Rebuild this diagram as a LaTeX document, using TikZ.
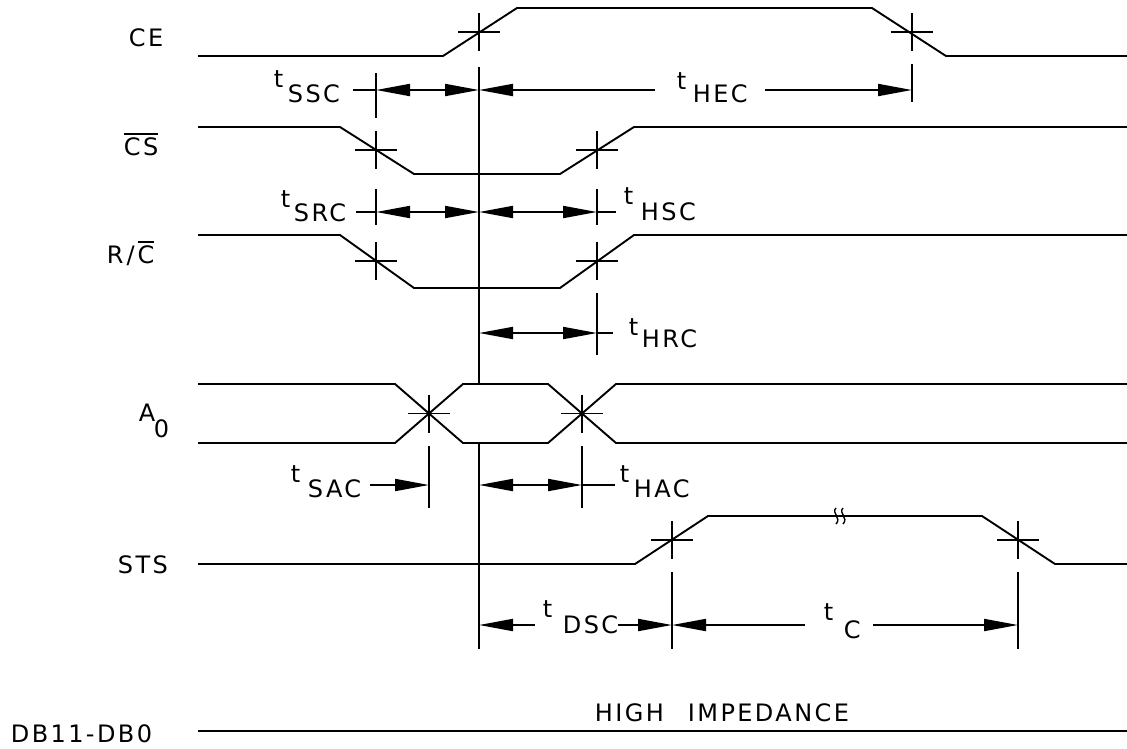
\documentclass[tikz,border=0pt]{standalone}
\usepackage{fontspec}
\setmainfont{DejaVu Sans}
\newfontfamily\lblfont[LetterSpace=10]{DejaVu Sans}
\usetikzlibrary{arrows.meta}
\newsavebox\ovbox
\newcommand\ovl[1]{\sbox\ovbox{#1}\rlap{\rule[0.84em]{\wd\ovbox}{1.8pt}}\usebox\ovbox}
\begin{document}
\begin{tikzpicture}[x=1pt,y=-1pt,line width=1.9pt,line join=miter,
  lab/.style={inner sep=0pt,anchor=base west,font=\fontsize{24}{28}\lblfont},
  >={Triangle[length=34pt,width=12pt]},
  xmark/.pic={\draw (-21,0)--(21,0) (0,-19)--(0,19);}]
\useasboundingbox (0,0) rectangle (1127,748);
% signal labels
\node[lab] (lce) at (128,46) {CE};
\node[lab] (lcs) at (123,155) {\ovl{CS}};
\node[lab] (lrc) at (106,263) {R\hspace{3pt}/\hspace{3pt}\ovl{C}};
\node[lab] (la) at (138,421) {A};
\node[lab] (la0) at (153,437) {0};
\node[lab] (lsts) at (117,573) {STS};
\node[lab] (ldb) at (10,742) {DB11-DB0};
\node[lab] (lhi) at (594,721) {HIGH\hspace{14pt} IMPEDANCE};
% waveforms
\draw (198,56) -- (443,56) -- (517,8) -- (872,8) -- (946,56) -- (1127,56);
\draw (198,127) -- (340,127) -- (414,174) -- (560,174) -- (634,127) -- (1127,127);
\draw (198,235) -- (340,235) -- (414,288) -- (560,288) -- (634,235) -- (1127,235);
\draw (198,384) -- (395,384) -- (463,443) -- (548,443) -- (616,384) -- (1127,384);
\draw (198,443) -- (395,443) -- (463,384) -- (548,384) -- (616,443) -- (1127,443);
\draw (198,564) -- (635,564) -- (708,516) -- (982,516) -- (1055,564) -- (1127,564);
\draw (198,731) -- (1127,731);
% squiggle break mark
\draw[line width=1.4pt] (836,508) .. controls (831,513) and (842,518) .. (836,524);
\draw[line width=1.4pt] (843,508) .. controls (838,513) and (849,518) .. (843,524);
% crossing marks
\pic at (479,32) {xmark};
\pic at (912,32) {xmark};
\pic at (376,150) {xmark};
\pic at (597,150) {xmark};
\pic at (376,261) {xmark};
\pic at (597,261) {xmark};
\pic at (429,413.5) {xmark};
\pic at (582,413.5) {xmark};
\pic at (672,540) {xmark};
\pic at (1018,540) {xmark};
% reference lines
\coordinate (m1) at (479,67); \coordinate (m2) at (479,384);
\coordinate (m3) at (479,443); \coordinate (m4) at (479,649);
\draw (m1) -- (m2) (m3) -- (m4);
\draw (376,73) -- (376,118);
\draw (912,64) -- (912,102);
\draw (376,189) -- (376,225);
\draw (597,189) -- (597,225);
\draw (597,293) -- (597,355);
\draw (429,446) -- (429,508);
\draw (582,446) -- (582,508);
\draw (672,572) -- (672,649);
\draw (1018,572) -- (1018,649);
% tSSC / tHEC
\coordinate (a1) at (376,90); \coordinate (a2) at (479,90); \coordinate (a3) at (912,90);
\draw (353,90) -- (a1);
\draw[<->] (a1) -- (a2);
\draw[<-] (a2) -- (655,90);
\draw[->] (765,90) -- (a3);
\node[lab] (tssc) at (273,87) {t};
\node[lab] (tssc2) at (287,102) {SSC};
\node[lab] (thec) at (676,89) {t};
\node[lab] (thec2) at (692,102) {HEC};
% tSRC / tHSC
\coordinate (b1) at (376,212); \coordinate (b2) at (479,212); \coordinate (b3) at (597,212);
\draw (356,212) -- (b1);
\draw[<->] (b1) -- (b2);
\draw[<->] (b2) -- (b3);
\draw (b3) -- (616,212);
\node[lab] (tsrc) at (280,207) {t};
\node[lab] (tsrc2) at (293,221) {SRC};
\node[lab] (thsc) at (623,204) {t};
\node[lab] (thsc2) at (640,220) {HSC};
% tHRC
\coordinate (c1) at (479,333); \coordinate (c2) at (597,333);
\draw[<->] (c1) -- (c2);
\draw (c2) -- (613,333);
\node[lab] (thrc) at (628,335) {t};
\node[lab] (thrc2) at (641,347) {HRC};
% tSAC / tHAC
\coordinate (d0) at (370,485); \coordinate (d1) at (429,485);
\coordinate (d2) at (479,485); \coordinate (d3) at (582,485);
\draw[->] (d0) -- (d1);
\draw[<->] (d2) -- (d3);
\draw (d3) -- (615,485);
\node[lab] (tsac) at (290,482) {t};
\node[lab] (tsac2) at (307,497) {SAC};
\node[lab] (thac) at (619,482) {t};
\node[lab] (thac2) at (633,497) {HAC};
% tDSC / tC
\coordinate (e1) at (479,625); \coordinate (e2) at (672,625); \coordinate (e3) at (1018,625);
\draw[<-] (e1) -- (535,625);
\draw[->] (618,625) -- (e2);
\draw[<-] (e2) -- (805,625);
\draw[->] (873,625) -- (e3);
\node[lab] (tdsc) at (542,617) {t};
\node[lab] (tdsc2) at (562,633) {DSC};
\node[lab] (tc) at (823,620) {t};
\node[lab] (tc2) at (843,638) {C};
\end{tikzpicture}
\end{document}
